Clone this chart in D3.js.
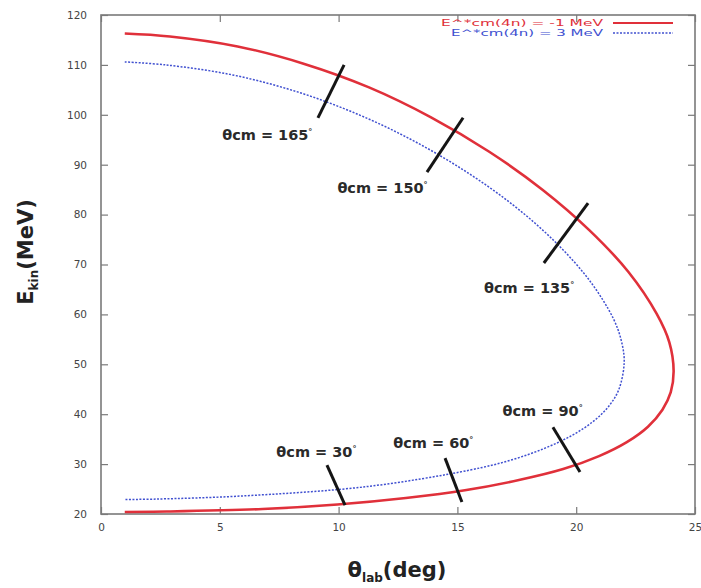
<!DOCTYPE html>
<html><head><meta charset="utf-8">
<script src="https://cdn.jsdelivr.net/npm/d3@7"></script>
<style>body{margin:0;background:#fff}</style>
</head><body>
<svg id="c" width="701" height="588"></svg>
<script>
// ---- data ----
const xTicks = [0, 5, 10, 15, 20, 25];
const yTicks = [20, 30, 40, 50, 60, 70, 80, 90, 100, 110, 120];
const redTheta = [1.0, 2.9, 5.75, 8.56, 11.28, 13.89, 16.34, 18.58, 20.55, 22.2, 23.39, 23.92, 24.1, 23.98, 23.63, 23.02, 22.13, 20.96, 19.45, 17.59, 15.38, 12.83, 9.95, 6.8, 2.77, 1.0];
const redE     = [116.3, 115.7, 113.7, 110.2, 105.5, 99.5, 92.6, 85.0, 76.9, 68.5, 60.1, 54.4, 48.7, 44.4, 40.9, 37.5, 34.4, 31.6, 29.0, 26.8, 24.8, 23.2, 21.9, 21.0, 20.5, 20.4];
const blueTheta = [1.0, 2.72, 5.42, 8.06, 10.61, 13.03, 15.30, 17.35, 19.12, 20.56, 21.56, 21.9, 22.02, 21.79, 21.37, 20.73, 19.84, 18.69, 17.25, 15.52, 11.2, 5.89, 2.39, 1.0];
const blueE     = [110.6, 110.0, 108.1, 104.9, 100.5, 95.1, 88.8, 81.9, 74.5, 66.8, 59.2, 54.7, 50.4, 44.9, 41.6, 38.6, 35.8, 33.2, 30.8, 28.8, 25.5, 23.6, 23.0, 22.9];
const seriesNames = ["E^*cm(4n) = -1 MeV", "E^*cm(4n) = 3 MeV"];
const markLabels = ["θcm = 165°", "θcm = 150°", "θcm = 135°", "θcm = 90°", "θcm = 60°", "θcm = 30°"];
const markTheta1 = [10.23, 15.24, 20.5, 19.02, 14.48, 9.51];
const markE1     = [110.0, 99.4, 82.3, 37.4, 31.2, 29.8];
const markTheta2 = [9.13, 13.72, 18.64, 20.16, 15.19, 10.27];
const markE2     = [99.4, 88.5, 70.3, 28.4, 22.4, 21.8];
const labelTheta = [5.1, 9.95, 16.12, 16.9, 12.3, 7.38];
const labelE     = [94.9, 84.3, 64.3, 39.6, 33.3, 31.4];

// ---- layout ----
const L = 101, R = 695, T = 15, B = 514;
const svg = d3.select("#c");
const x = d3.scaleLinear().domain([0, 25]).range([L, R]);
const y = d3.scaleLinear().domain([20, 120]).range([B, T]);
const frameCol = "#7a7a7a";
const tickFont = "DejaVu Sans, sans-serif";

// frame
svg.append("rect").attr("x", L).attr("y", T).attr("width", R - L).attr("height", B - T)
  .attr("fill", "none").attr("stroke", frameCol).attr("stroke-width", 1.6);

// axes
const ax = (g) => g.selectAll(".domain").remove();
svg.append("g").attr("transform", `translate(0,${B})`)
  .call(d3.axisBottom(x).tickValues(xTicks).tickSize(-7).tickPadding(10).tickFormat(d3.format("d")))
  .call(ax)
  .call(g => g.selectAll("line").attr("stroke", frameCol).attr("stroke-width", 1.2))
  .call(g => g.selectAll("text").attr("font-family", tickFont).attr("font-size", 10.5).attr("fill", "#444"));
svg.append("g").attr("transform", `translate(0,${T})`)
  .call(d3.axisTop(x).tickValues(xTicks).tickSize(-7).tickFormat(""))
  .call(ax)
  .call(g => g.selectAll("line").attr("stroke", frameCol).attr("stroke-width", 1.2));
svg.append("g").attr("transform", `translate(${L},0)`)
  .call(d3.axisLeft(y).tickValues(yTicks).tickSize(-7).tickPadding(14).tickFormat(d3.format("d")))
  .call(ax)
  .call(g => g.selectAll("line").attr("stroke", frameCol).attr("stroke-width", 1.2))
  .call(g => g.selectAll("text").attr("font-family", tickFont).attr("font-size", 10.5).attr("fill", "#444"));
svg.append("g").attr("transform", `translate(${R},0)`)
  .call(d3.axisRight(y).tickValues(yTicks).tickSize(-7).tickFormat(""))
  .call(ax)
  .call(g => g.selectAll("line").attr("stroke", frameCol).attr("stroke-width", 1.2));

// curves
const line = d3.line().x(d => x(d[0])).y(d => y(d[1])).curve(d3.curveCatmullRom.alpha(0.5));
const red = redTheta.map((t, i) => [t, redE[i]]);
const blue = blueTheta.map((t, i) => [t, blueE[i]]);
svg.append("path").attr("d", line(blue)).attr("fill", "none")
  .attr("stroke", "#4050d0").attr("stroke-width", 1.5).attr("stroke-dasharray", "2,1.5");
svg.append("path").attr("d", line(red)).attr("fill", "none")
  .attr("stroke", "#e0303a").attr("stroke-width", 2.6);

// marks
markLabels.forEach((lab, i) => {
  svg.append("line")
    .attr("x1", x(markTheta1[i])).attr("y1", y(markE1[i]))
    .attr("x2", x(markTheta2[i])).attr("y2", y(markE2[i]))
    .attr("stroke", "#151515").attr("stroke-width", 3);
  const t = svg.append("text").attr("x", x(labelTheta[i])).attr("y", y(labelE[i]))
    .attr("font-family", "DejaVu Sans, sans-serif").attr("font-weight", "bold")
    .attr("font-size", 14.5).attr("fill", "#2a2a2a");
  const parts = lab.split("°");
  t.append("tspan").text(parts[0]);
  t.append("tspan").attr("font-size", 8).attr("dy", -5).text("°");
});

// legend
const legCols = ["#e0303a", "#4050d0"];
seriesNames.forEach((n, i) => {
  const yy = 23 + i * 10;
  svg.append("text").attr("x", 603).attr("y", yy + 3).attr("text-anchor", "end")
    .attr("font-family", "DejaVu Sans, sans-serif").attr("font-size", 8.5)
    .attr("textLength", i === 0 ? 162 : 152).attr("lengthAdjust", "spacingAndGlyphs")
    .attr("fill", legCols[i]).text(n);
  svg.append("line").attr("x1", 613).attr("x2", 673).attr("y1", yy).attr("y2", yy)
    .attr("stroke", legCols[i]).attr("stroke-width", i === 0 ? 2 : 1.4)
    .attr("stroke-dasharray", i === 0 ? null : "2,1.5");
});

// axis titles
const xt = svg.append("text").attr("x", 397).attr("y", 577).attr("text-anchor", "middle")
  .attr("font-family", "DejaVu Sans, sans-serif").attr("font-weight", "bold").attr("font-size", 21).attr("fill", "#222");
xt.append("tspan").text("θ");
xt.append("tspan").attr("font-size", 12).attr("dy", 5).text("lab");
xt.append("tspan").attr("dy", -5).text("(deg)");

const yt = svg.append("text").attr("transform", "translate(33,252) rotate(-90)").attr("text-anchor", "middle")
  .attr("font-family", "DejaVu Sans, sans-serif").attr("font-weight", "bold").attr("font-size", 21).attr("fill", "#222");
yt.append("tspan").text("E");
yt.append("tspan").attr("font-size", 12).attr("dy", 5).text("kin");
yt.append("tspan").attr("dy", -5).text("(MeV)");
</script>
</body></html>
